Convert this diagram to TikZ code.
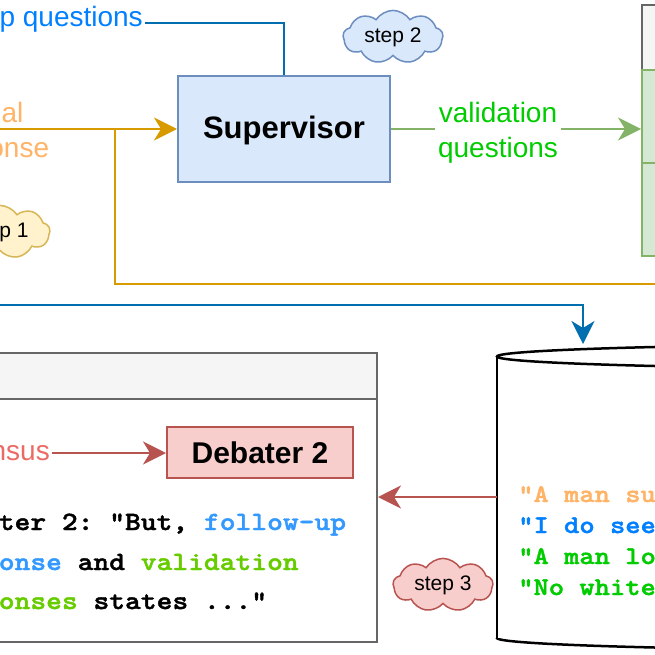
\documentclass[tikz,border=0pt]{standalone}
\usepackage{fontspec}
\setmainfont{Liberation Sans}
\setmonofont[FakeStretch=1.143, FakeBold=1.6]{lmmonolt10-bold.otf}
\usetikzlibrary{arrows.meta,shapes.symbols}
\definecolor{bluestroke}{HTML}{006EAF}
\definecolor{bluetext}{HTML}{007FFF}
\definecolor{orangestroke}{HTML}{D79B00}
\definecolor{orangetext}{HTML}{FFB366}
\definecolor{greenstroke}{HTML}{82B366}
\definecolor{greenfill}{HTML}{D5E8D4}
\definecolor{greentext}{HTML}{00CC00}
\definecolor{supfill}{HTML}{DAE8FC}
\definecolor{supstroke}{HTML}{6C8EBF}
\definecolor{redstroke}{HTML}{B85450}
\definecolor{redfill}{HTML}{F8CECC}
\definecolor{redtext}{HTML}{EA6B66}
\definecolor{yelfill}{HTML}{FFF2CC}
\definecolor{yelstroke}{HTML}{D6B656}
\definecolor{grayfill}{HTML}{F5F5F5}
\definecolor{graystroke}{HTML}{666666}
\definecolor{codeblue}{HTML}{3399FF}
\definecolor{codegreen}{HTML}{66CC00}
\begin{document}
\begin{tikzpicture}[x=1pt,y=-1pt,
  every node/.style={inner sep=2pt},
  conn/.style={line width=2pt},
  arrowtip/.style={-{Stealth[length=23pt,width=23pt,inset=7pt]}},
  lbl/.style={font=\fontsize{28}{35}\selectfont, align=center},
  stepcloud/.style={cloud, cloud puffs=9, cloud puff arc=115, aspect=2, draw, line width=1.5pt, minimum width=100pt, minimum height=50pt, inner sep=0pt, font=\fontsize{21}{25}\selectfont},
  panel/.style={draw=graystroke, line width=2pt, inner sep=0pt},
  greenpanel/.style={draw=greenstroke, fill=greenfill, line width=2pt, inner sep=0pt},
  bluebox/.style={draw=supstroke, fill=supfill, line width=2pt, font=\bfseries\fontsize{31}{37}\selectfont},
  redbox/.style={draw=redstroke, fill=redfill, line width=2pt, font=\bfseries\fontsize{30}{36}\selectfont},
  dbtext/.style={anchor=base west, font=\ttfamily\fontsize{25.5}{31}\selectfont},
  debtext/.style={anchor=base west, font=\ttfamily\fontsize{26.3}{40}\selectfont},
  cylline/.style={line width=2.5pt}
]
\path[use as bounding box, clip] (0,0) rectangle (655,655);

% green panel (right, cropped)
\node[panel, fill=grayfill, minimum width=160pt, minimum height=65pt, anchor=north west] (ghead) at (641,4) {};
\node[greenpanel, minimum width=160pt, minimum height=93pt, anchor=north west] (gs1) at (641,69) {};
\node[greenpanel, minimum width=160pt, minimum height=93pt, anchor=north west] (gs2) at (641,162) {};

% supervisor
\node[bluebox, minimum width=212pt, minimum height=106pt, text height=26pt, text depth=6.5pt] (sup) at (284,129) {Supervisor};

% follow-up questions
\node[lbl, text=bluetext, anchor=east] (fuq) at (145,19.3) {follow-up questions};
\draw[conn, bluestroke] (fuq.east) ++(0,3.7) -| (sup.north);

% initial response
\coordinate (isrc) at (-200,129);
\node[lbl, text=orangetext] (ir) at (-8.5,132.3) {initial\\response};
\draw[conn, orangestroke, arrowtip] (isrc) -- (sup.west);
\coordinate (ibr) at (115,129);
\coordinate (iend) at (800,284);
\draw[conn, orangestroke] (ibr) |- (iend);

% validation questions
\draw[conn, greenstroke, arrowtip] (sup.east) -- (sup.east -| gs1.west);
\node[lbl, text=greentext, fill=white, inner xsep=3pt] (vq) at (498,132.5) {validation\\questions};

% clouds
\node[stepcloud, fill=yelfill, draw=yelstroke] (s1) at (0,232) {step 1};
\node[stepcloud, fill=supfill, draw=supstroke] (s2) at (393,37) {step 2};
\node[stepcloud, fill=redfill, draw=redstroke] (s3) at (443,585) {step 3};

% blue lower connector
\coordinate (bsrc) at (-200,305);
\coordinate (dbin) at (583,344);
\draw[conn, bluestroke, arrowtip] (bsrc) -| (dbin);

% cylinder (cropped)
\node[minimum width=900pt, minimum height=306pt, inner sep=0pt] (db) at (947,497) {};
\draw[cylline, fill=white] (947,356.5) ellipse [x radius=450pt, y radius=12.5pt];
\draw[cylline] (497,356.5) -- (497,638);
\begin{scope}
\clip (400,638) rectangle (1500,700);
\draw[cylline] (947,638) ellipse [x radius=450pt, y radius=12.5pt];
\end{scope}
\node[dbtext, text=orangetext] (c1) at (516,502) {"A man su};
\node[dbtext, text=bluetext] (c2) at (516,533) {"I do see};
\node[dbtext, text=greentext] (c3) at (516,564) {"A man lo};
\node[dbtext, text=greentext] (c4) at (516,595) {"No white};

% debater panel (cropped)
\node[panel, minimum width=700pt, minimum height=289pt] (deb) at (27,497.5) {};
\node[panel, fill=grayfill, minimum width=700pt, minimum height=46pt] (debh) at (27,376) {};
\draw[conn, redstroke, arrowtip] (db.west) -- (db.west -| deb.east);

\node[redbox, minimum width=186pt, minimum height=51pt] (d2) at (260,452.5) {Debater 2};
\node[lbl, text=redtext, anchor=east] (cons) at (52,453) {consensus};
\draw[conn, redstroke, arrowtip] (cons.east) -- (cons.east -| d2.west);

\node[debtext] (t1) at (-66.5,530) {Debater 2: "But, \textcolor{codeblue}{follow-up}};
\node[debtext] (t2) at (-66.5,570) {\textcolor{codeblue}{response} and \textcolor{codegreen}{validation}};
\node[debtext] (t3) at (-66.5,609) {\textcolor{codegreen}{responses} states ..."};
\end{tikzpicture}
\end{document}
